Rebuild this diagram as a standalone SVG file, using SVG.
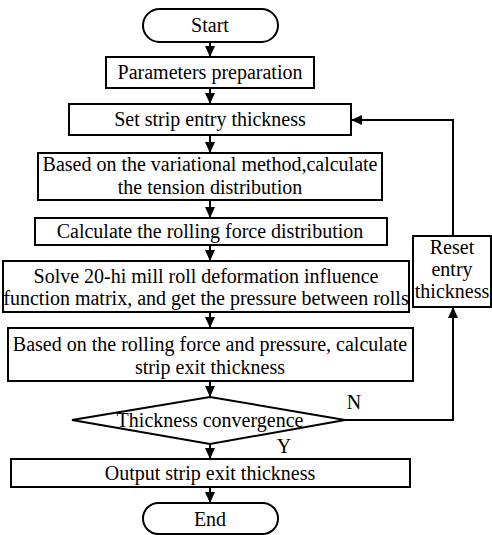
<svg xmlns="http://www.w3.org/2000/svg" width="492" height="535" viewBox="0 0 492 535">
<style>
.b{fill:#fff;stroke:#000;stroke-width:2}
text{font-family:'Liberation Serif','Times New Roman','DejaVu Serif',serif;font-size:20px;fill:#000;text-anchor:middle}
.c{fill:none;stroke:#000;stroke-width:2}
</style>
<defs>
<marker id="a" markerWidth="12" markerHeight="10" refX="11" refY="5" orient="auto" markerUnits="userSpaceOnUse">
<path d="M0,0 L11,5 L0,10 Z" fill="#000"/>
</marker>
</defs>
<rect width="492" height="535" fill="#fff"/>
<g id="connectors">
<line class="c" x1="210" y1="42" x2="210" y2="57" marker-end="url(#a)"/>
<line class="c" x1="210" y1="88" x2="210" y2="104" marker-end="url(#a)"/>
<line class="c" x1="210" y1="135" x2="210" y2="153" marker-end="url(#a)"/>
<line class="c" x1="210" y1="200" x2="210" y2="218" marker-end="url(#a)"/>
<line class="c" x1="210" y1="245" x2="210" y2="261" marker-end="url(#a)"/>
<line class="c" x1="210" y1="312" x2="210" y2="328" marker-end="url(#a)"/>
<line class="c" x1="210" y1="381" x2="210" y2="397" marker-end="url(#a)"/>
<line class="c" x1="210" y1="444" x2="210" y2="459" marker-end="url(#a)"/>
<line class="c" x1="210" y1="487" x2="210" y2="503" marker-end="url(#a)"/>
<polyline class="c" points="345,420 453,420 453,307" marker-end="url(#a)"/>
<polyline class="c" points="453,236 453,120 351,120" marker-end="url(#a)"/>
<text x="354" y="409">N</text>
<text x="284" y="453">Y</text>
</g>
<g id="start">
<rect class="b" x="143" y="9" width="135" height="33" rx="16.5"/>
<text x="210" y="32">Start</text>
</g>
<g id="params">
<rect class="b" x="106" y="57" width="208" height="31"/>
<text x="210" y="79">Parameters preparation</text>
</g>
<g id="setentry">
<rect class="b" x="69" y="104" width="282" height="31"/>
<text x="210" y="126">Set strip entry thickness</text>
</g>
<g id="tension">
<rect class="b" x="38" y="153" width="344" height="47"/>
<text x="210" y="171">Based on the variational method,calculate</text>
<text x="210" y="194">the tension distribution</text>
</g>
<g id="rollforce">
<rect class="b" x="35" y="218" width="352" height="27"/>
<text x="210" y="238">Calculate the rolling force distribution</text>
</g>
<g id="solve">
<rect class="b" x="3" y="261" width="406" height="51"/>
<text x="206" y="283">Solve 20-hi mill roll deformation influence</text>
<text x="206" y="305">function matrix, and get the pressure between rolls</text>
</g>
<g id="reset">
<rect class="b" x="413" y="236" width="78" height="71"/>
<text x="452" y="254">Reset</text>
<text x="452" y="276">entry</text>
<text x="452" y="298">thickness</text>
</g>
<g id="exit">
<rect class="b" x="8" y="328" width="405" height="53"/>
<text x="210" y="351">Based on the rolling force and pressure, calculate</text>
<text x="210" y="374">strip exit thickness</text>
</g>
<g id="decision">
<polygon class="b" points="72,420 210,397 345,420 210,444"/>
<text x="210" y="427">Thickness convergence</text>
</g>
<g id="output">
<rect class="b" x="11" y="459" width="399" height="28"/>
<text x="210" y="480">Output strip exit thickness</text>
</g>
<g id="end">
<rect class="b" x="143" y="503" width="135" height="31" rx="15.5"/>
<text x="210" y="526">End</text>
</g>
</svg>
